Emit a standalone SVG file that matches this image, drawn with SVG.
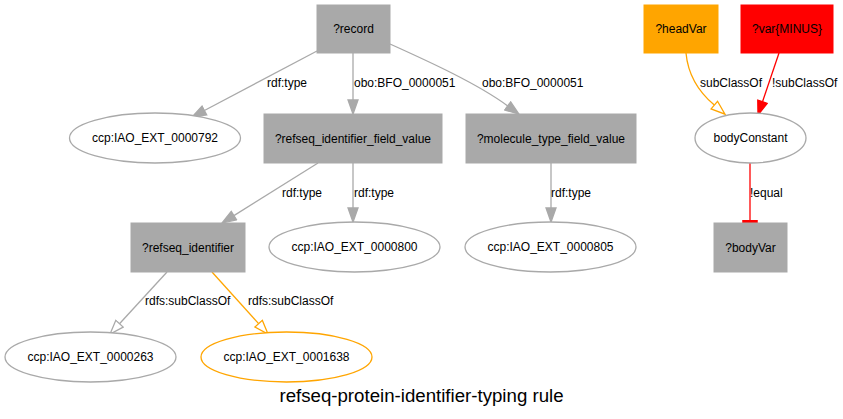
<svg xmlns="http://www.w3.org/2000/svg" width="843" height="419" viewBox="0 0 843 419">
<style>
text{font-family:"Liberation Sans",Arial,sans-serif;font-size:12px;fill:#000}
.nl{text-anchor:middle}
.box{fill:#a9a9a9;stroke:#a9a9a9;stroke-width:1}
.ell{fill:#fff;stroke:#a9a9a9;stroke-width:1.3}
.e{fill:none;stroke-width:1.3}
.g{stroke:#a9a9a9}
.o{stroke:#ffa500}
.r{stroke:#ff0000}
.title{font-size:18.67px;text-anchor:middle}
</style>
<defs>
<marker id="aGray" markerUnits="userSpaceOnUse" markerWidth="17" markerHeight="12" refX="1" refY="6" orient="auto"><path d="M1,1 L15,6 L1,11 Z" fill="#a9a9a9" stroke="#a9a9a9" stroke-width="1.3"/></marker>
<marker id="aRed" markerUnits="userSpaceOnUse" markerWidth="17" markerHeight="12" refX="1" refY="6" orient="auto"><path d="M1,1 L15,6 L1,11 Z" fill="#ff0000" stroke="#ff0000" stroke-width="1.3"/></marker>
<marker id="hGray" markerUnits="userSpaceOnUse" markerWidth="17" markerHeight="12" refX="1" refY="6" orient="auto"><path d="M1,1 L15,6 L1,11 Z" fill="#fff" stroke="#a9a9a9" stroke-width="1.3"/></marker>
<marker id="hOrange" markerUnits="userSpaceOnUse" markerWidth="17" markerHeight="12" refX="1" refY="6" orient="auto"><path d="M1,1 L15,6 L1,11 Z" fill="#fff" stroke="#ffa500" stroke-width="1.3"/></marker>
<marker id="teeRed" markerUnits="userSpaceOnUse" markerWidth="4" markerHeight="16" refX="0" refY="8" orient="auto"><path d="M0,0.5 L3,0.5 L3,15.5 L0,15.5 Z" fill="#ff0000" stroke="#ff0000" stroke-width="0.5"/></marker>
</defs>
<rect width="843" height="419" fill="#fff"/>
<g id="connectors">
<path class="e g" d="M317,51 L204.4,110.5" marker-end="url(#aGray)"/>
<text x="267" y="87">rdf:type</text>
<path class="e g" d="M353,53 L353,100" marker-end="url(#aGray)"/>
<text x="354" y="87">obo:BFO_0000051</text>
<path class="e g" d="M390,44 C430,62 478,84 507.7,105.9" marker-end="url(#aGray)"/>
<text x="482" y="87">obo:BFO_0000051</text>
<path class="e g" d="M318,163 L233.9,215.6" marker-end="url(#aGray)"/>
<text x="282" y="197">rdf:type</text>
<path class="e g" d="M353,163 L353,208" marker-end="url(#aGray)"/>
<text x="354" y="197">rdf:type</text>
<path class="e g" d="M551,163 L551,208" marker-end="url(#aGray)"/>
<text x="551" y="197">rdf:type</text>
<path class="e g" d="M167,272 L119.5,323.7" marker-end="url(#hGray)"/>
<text x="145" y="305">rdfs:subClassOf</text>
<path class="e o" d="M212,272 L258.6,323.6" marker-end="url(#hOrange)"/>
<text x="248" y="305">rdfs:subClassOf</text>
<path class="e o" d="M686,53 C688,75 700,93 714.3,105.1" marker-end="url(#hOrange)"/>
<text x="700" y="87">subClassOf</text>
<path class="e r" d="M779,53 L762.5,101.7" marker-end="url(#aRed)"/>
<text x="772" y="87">!subClassOf</text>
<path class="e r" d="M750,163 L750,220" marker-end="url(#teeRed)"/>
<text x="750" y="197">!equal</text>
</g>
<g id="n_record"><rect class="box" x="317" y="5" width="73" height="48"/><text class="nl" x="353.5" y="33">?record</text></g>
<g id="n_792"><ellipse class="ell" cx="155" cy="138" rx="85.5" ry="25"/><text class="nl" x="155" y="142">ccp:IAO_EXT_0000792</text></g>
<g id="n_field"><rect class="box" x="264" y="114" width="178" height="49"/><text class="nl" x="353" y="142.5">?refseq_identifier_field_value</text></g>
<g id="n_molecule"><rect class="box" x="466" y="114" width="170" height="49"/><text class="nl" x="551" y="142.5">?molecule_type_field_value</text></g>
<g id="n_headVar"><rect class="box" x="644" y="5" width="74" height="48" style="fill:#ffa500;stroke:#ffa500"/><text class="nl" x="681" y="33">?headVar</text></g>
<g id="n_varMinus"><rect class="box" x="741" y="5" width="92" height="48" style="fill:#ff0000;stroke:#ff0000"/><text class="nl" x="787" y="33">?var{MINUS}</text></g>
<g id="n_bodyConstant"><ellipse class="ell" cx="750.5" cy="138" rx="55.5" ry="25"/><text class="nl" x="750.5" y="142">bodyConstant</text></g>
<g id="n_refseq_identifier"><rect class="box" x="131" y="223" width="114" height="49"/><text class="nl" x="188" y="251.5">?refseq_identifier</text></g>
<g id="n_800"><ellipse class="ell" cx="354.5" cy="247" rx="85.5" ry="25"/><text class="nl" x="354.5" y="251">ccp:IAO_EXT_0000800</text></g>
<g id="n_805"><ellipse class="ell" cx="550.5" cy="247" rx="85.5" ry="25"/><text class="nl" x="550.5" y="251">ccp:IAO_EXT_0000805</text></g>
<g id="n_bodyVar"><rect class="box" x="714" y="223" width="73" height="49"/><text class="nl" x="750.5" y="251.5">?bodyVar</text></g>
<g id="n_263"><ellipse class="ell" cx="90.5" cy="357" rx="85.5" ry="25"/><text class="nl" x="90.5" y="361">ccp:IAO_EXT_0000263</text></g>
<g id="n_1638"><ellipse class="ell" cx="286.5" cy="357" rx="85.5" ry="25" style="stroke:#ffa500"/><text class="nl" x="286.5" y="361">ccp:IAO_EXT_0001638</text></g>
<text class="title" x="421.5" y="402">refseq-protein-identifier-typing rule</text>
</svg>
